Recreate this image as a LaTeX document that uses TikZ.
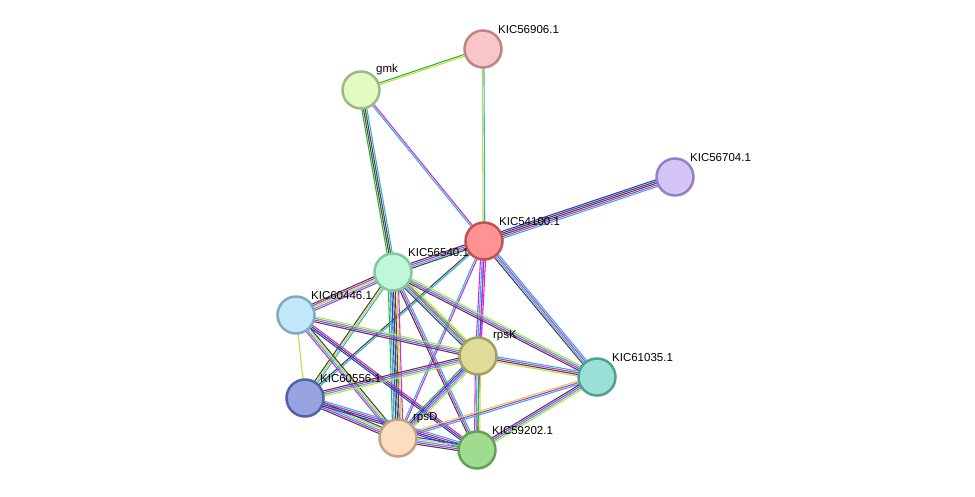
\documentclass[tikz,border=0pt]{standalone}
\usepackage{fontspec}
\setmainfont{Liberation Sans}
\usetikzlibrary{calc,backgrounds}

\definecolor{tm}{HTML}{C6DC3A}
\definecolor{co}{HTML}{474747}
\definecolor{ex}{HTML}{D52AD5}
\definecolor{db}{HTML}{2EB4DA}
\definecolor{nb}{HTML}{2EB52E}
\definecolor{oc}{HTML}{3232F5}

\definecolor{f906}{HTML}{F8C6C6}\definecolor{d906}{HTML}{C08484}
\definecolor{fgmk}{HTML}{E2FBC0}\definecolor{dgmk}{HTML}{A2B884}
\definecolor{f704}{HTML}{D4C4F8}\definecolor{d704}{HTML}{9282C4}
\definecolor{f100}{HTML}{FF9292}\definecolor{d100}{HTML}{C05252}
\definecolor{f540}{HTML}{BFF8D8}\definecolor{d540}{HTML}{82C8A2}
\definecolor{f446}{HTML}{C2E8FC}\definecolor{d446}{HTML}{82A8C2}
\definecolor{frpsK}{HTML}{DEDC96}\definecolor{drpsK}{HTML}{A2A062}
\definecolor{f035}{HTML}{9AE0D6}\definecolor{d035}{HTML}{52A092}
\definecolor{f556}{HTML}{98A4E0}\definecolor{d556}{HTML}{5262A2}
\definecolor{frpsD}{HTML}{FDDDBF}\definecolor{drpsD}{HTML}{C2A282}
\definecolor{f202}{HTML}{A0DC90}\definecolor{d202}{HTML}{62A252}

\tikzset{
  prot/.style={circle, minimum size=37pt, inner sep=0pt, line width=2.5pt, fill=f#1, draw=d#1},
  lbl/.style={font=\fontsize{11.5}{13}\selectfont, inner sep=1pt},
  evid/.style={line width=1.1pt}
}

% bundle of evidence lines between two nodes
\newcommand\edge[3]{%
  \foreach \c [count=\n] in {#3} {\xdef\nedge{\n}}
  \foreach \c [count=\i] in {#3} {
    \pgfmathsetmacro\off{(\i-(\nedge+1)/2)*1.7}
    \draw[evid, \c] ($(#1)!\off pt!90:(#2)$) -- ($(#2)!\off pt!-90:(#1)$);
  }
}

\begin{document}
\begin{tikzpicture}[x=1pt,y=-1pt]
\useasboundingbox (0,0) rectangle (975,496);

\node (k906) [prot=906, label={[lbl]45:KIC56906.1}] at (483,49) {};
\node (gmk) [prot=gmk, label={[lbl]45:gmk}] at (361,90) {};
\node (k704) [prot=704, label={[lbl]45:KIC56704.1}] at (675,177) {};
\node (k100) [prot=100, label={[lbl]45:KIC54100.1}] at (484,241) {};
\node (k540) [prot=540, label={[lbl]45:KIC56540.1}] at (393,272) {};
\node (k446) [prot=446, label={[lbl]45:KIC60446.1}] at (296,315) {};
\node (rpsK) [prot=rpsK, label={[lbl]45:rpsK}] at (478,356) {};
\node (k035) [prot=035, label={[lbl]45:KIC61035.1}] at (597,377) {};
\node (k556) [prot=556, label={[lbl]45:KIC60556.1}] at (305,398) {};
\node (rpsD) [prot=rpsD, label={[lbl]45:rpsD}] at (398,438) {};
\node (k202) [prot=202, label={[lbl]45:KIC59202.1}] at (477,450) {};

\begin{scope}[on background layer]
\edge{gmk}{k906}{tm,nb}
\edge{k906}{k100}{tm,db}
\edge{gmk}{k100}{db,ex}
\edge{gmk}{k540}{nb,co,co,db}
\edge{k100}{k704}{db,ex,co,co,oc}
\edge{k100}{k540}{co,ex,db,co}
\edge{k100}{rpsK}{ex,db,oc,ex}
\edge{k100}{k035}{co,db,ex,db}
\edge{k100}{k202}{ex}
\edge{k100}{rpsD}{db,ex}
\edge{k100}{k556}{co,db}
\edge{k540}{k446}{co,ex,tm,db,ex}
\edge{k540}{rpsK}{co,db,ex,nb,tm}
\edge{k540}{k035}{co,ex,db,tm}
\edge{k540}{k556}{co,tm,db}
\edge{k540}{rpsD}{nb,db,oc,co,co,tm,ex}
\edge{k540}{k202}{co,ex,db}
\edge{k446}{rpsK}{co,ex,db,tm}
\edge{k446}{k556}{tm}
\edge{k446}{rpsD}{ex,db,tm,co}
\edge{k446}{k202}{oc,co,ex}
\edge{rpsK}{k035}{tm,co,ex,db}
\edge{rpsK}{k556}{co,ex,db,tm}
\edge{rpsK}{rpsD}{nb,oc,ex,db,tm}
\edge{rpsK}{k202}{ex,db,nb,tm}
\edge{k035}{rpsD}{tm,ex,db}
\edge{k035}{k202}{co,ex,db,tm}
\edge{k556}{rpsD}{co,ex,db,tm,co}
\edge{k556}{k202}{oc,co,ex,db}
\edge{rpsD}{k202}{co,ex,db,tm,oc}
\end{scope}

\end{tikzpicture}
\end{document}
